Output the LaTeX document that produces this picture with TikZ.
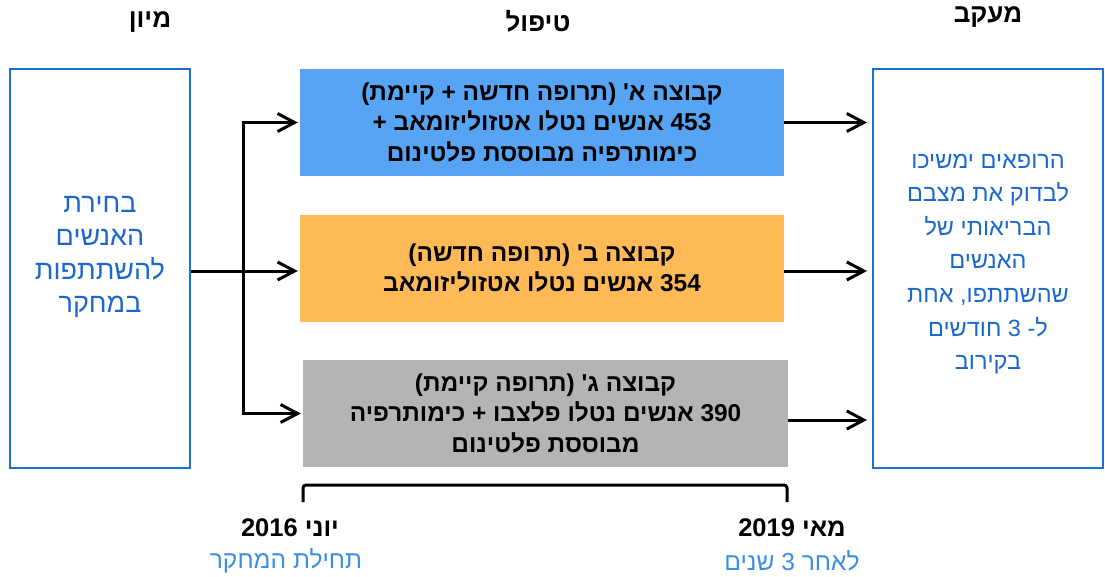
\documentclass[tikz,border=0pt]{standalone}
\usepackage{fontspec}
\setmainfont[Script=Hebrew, Ligatures=TeXOff]{Liberation Sans}
\TeXXeTstate=1
\usetikzlibrary{arrows.meta}
\newcommand{\hebline}[1]{\beginR #1\endR}
\newcommand{\numL}[1]{\beginL #1\endL{}}
\newcommand{\apos}{\char"0027{}}
\definecolor{boxblue}{HTML}{1F6FD0}
\definecolor{txtblue}{HTML}{1A68CF}
\definecolor{lightblue}{HTML}{3B8EE3}
\definecolor{fillA}{HTML}{57A3F4}
\definecolor{fillB}{HTML}{FFBA57}
\definecolor{fillC}{HTML}{B4B4B4}
\tikzset{
  sidebox/.style={draw=boxblue, line width=2pt, inner sep=0pt, minimum height=399pt},
  sidetext/.style={text=txtblue, align=center, inner sep=0pt},
  groupbox/.style={inner sep=0pt, minimum width=484pt, minimum height=107pt, align=center,
     font=\bfseries\fontsize{24.4}{30.5}\selectfont},
  header/.style={inner sep=0pt, font=\bfseries\fontsize{26}{30}\selectfont},
  datelabel/.style={inner sep=0pt, font=\bfseries\fontsize{25.5}{30}\selectfont},
  sublabel/.style={inner sep=0pt, text=lightblue, font=\fontsize{24.6}{30}\selectfont},
  conn/.style={line width=3pt, line join=miter},
  arr/.style={conn, -{Straight Barb[length=17pt,width=18pt,line width=3pt]}},
}
\begin{document}
\begin{tikzpicture}[x=1pt,y=-1pt]
\useasboundingbox (0,0) rectangle (1105,576);

% headers
\node[header] (hsel) at (150,22) {\hebline{מיון}};
\node[header] (htreat) at (538,21) {\hebline{טיפול}};
\node[header] (hfollow) at (988,17) {\hebline{מעקב}};

% side boxes
\node[sidebox, minimum width=180pt] (sel) at (100,268.5) {};
\node[sidetext, font=\fontsize{27}{33.3}\selectfont] (seltext) at (100,257)
  {\hebline{בחירת}\\\hebline{האנשים}\\\hebline{להשתתפות}\\\hebline{במחקר}};

\node[sidebox, minimum width=230pt] (follow) at (988,268.5) {};
\node[sidetext, font=\fontsize{23.5}{33.6}\selectfont] (followtext) at (988,264)
  {\hebline{הרופאים ימשיכו}\\\hebline{לבדוק את מצבם}\\\hebline{הבריאותי של}\\\hebline{האנשים}\\\hebline{שהשתתפו, אחת}\\\hebline{ל- \numL{3} חודשים}\\\hebline{בקירוב}};

% group boxes
\node[groupbox, fill=fillA] (grpA) at (542,122.5)
  {\hebline{קבוצה א\apos{} (תרופה חדשה + קיימת)}\\\hebline{\numL{453} אנשים נטלו אטזוליזומאב +}\\\hebline{כימותרפיה מבוססת פלטינום}};
\node[groupbox, fill=fillB] (grpB) at (542,268)
  {\hebline{קבוצה ב\apos{} (תרופה חדשה)}\\\hebline{\numL{354} אנשים נטלו אטזוליזומאב}};
\node[groupbox, fill=fillC, minimum width=485pt] (grpC) at (545.5,413.5)
  {\hebline{קבוצה ג\apos{} (תרופה קיימת)}\\\hebline{\numL{390} אנשים נטלו פלצבו + כימותרפיה}\\\hebline{מבוססת פלטינום}};

% left connectors
\coordinate (split) at (243,271);
\draw[conn] (sel.east |- split) -- (split);
\draw[arr, shorten >=2pt] (split) -- (split |- grpA.west) -- (grpA.west);
\draw[arr, shorten >=2pt] (split) -- (split |- grpC.west) -- (grpC.west);
\draw[arr, shorten >=2pt] (split) -- (grpB.west |- split);

% right connectors
\draw[arr, shorten >=5pt] (grpA.east) -- (grpA.east -| follow.west);
\draw[arr, shorten >=5pt] ([yshift=-3pt]grpB.east) -- ([yshift=-3pt]grpB.east -| follow.west);
\draw[arr, shorten >=5pt] ([yshift=-6.5pt]grpC.east) -- ([yshift=-6.5pt]grpC.east -| follow.west);

% timeline bracket
\coordinate (tstart) at (303,502);
\coordinate (tend) at (787,502);
\draw[line width=3pt, rounded corners=3pt] (tstart) -- ++(0,-17) -- ([yshift=17pt]tend) -- (tend);

% dates
\node[datelabel] (d1) at (290,528) {\hebline{יוני \numL{2016}}};
\node[sublabel] (s1) at (286,561) {\hebline{תחילת המחקר}};
\node[datelabel] (d2) at (792,528) {\hebline{מאי \numL{2019}}};
\node[sublabel] (s2) at (792,561) {\hebline{לאחר \numL{3} שנים}};
\end{tikzpicture}
\end{document}
